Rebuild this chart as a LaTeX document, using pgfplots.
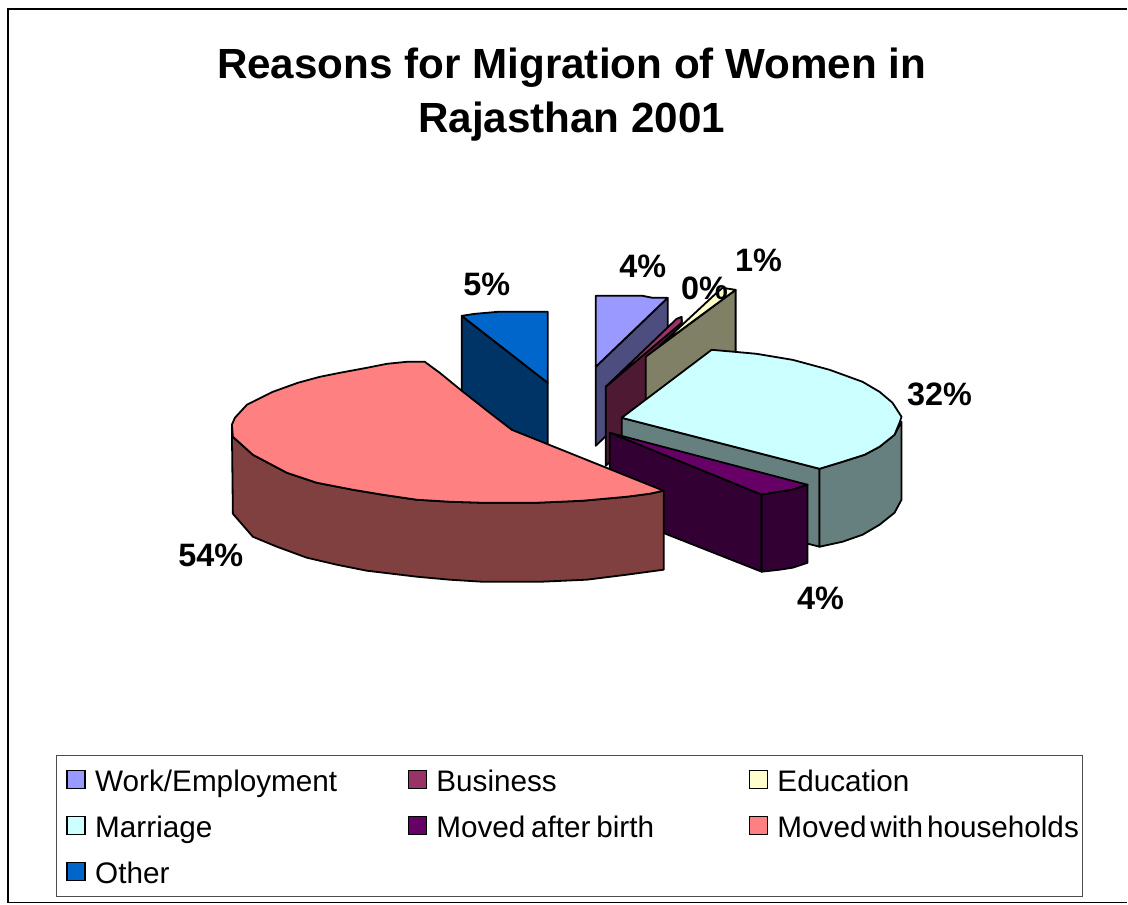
\documentclass[border=0pt]{standalone}
\usepackage{pgfplots}
\pgfplotsset{compat=1.18}
\usepackage{fontspec}
\setmainfont{Liberation Sans}
\newfontfamily\legfont[WordSpace=0.7]{Liberation Sans}
\hyphenation{households}
\definecolor{workT}{HTML}{9999FF}\definecolor{workS}{HTML}{4D4D80}
\definecolor{busT}{HTML}{993366}\definecolor{busS}{HTML}{4D1933}
\definecolor{eduT}{HTML}{FFFFCC}\definecolor{eduS}{HTML}{808066}
\definecolor{marT}{HTML}{CCFFFF}\definecolor{marS}{HTML}{668080}
\definecolor{birT}{HTML}{660066}\definecolor{birS}{HTML}{330033}
\definecolor{houT}{HTML}{FF8080}\definecolor{houS}{HTML}{804040}
\definecolor{othT}{HTML}{0066CC}\definecolor{othS}{HTML}{003366}
\pgfplotsset{
  slice/.style={draw=black,line width=1.8pt,line join=round,fill=#1,mark=none,forget plot},
  /pgfplots/swatch/.style={legend image code/.code={
    \draw[draw=black,line width=1.6pt,fill=#1] (0pt,-9pt) rectangle (18pt,9pt);
    \path[draw=none] (0pt,0pt) -- (25pt,0pt);}}
}
\begin{document}
\begin{tikzpicture}
\begin{axis}[
  scale only axis,width=1128pt,height=905pt,
  xmin=0,xmax=1128,ymin=0,ymax=905,y dir=reverse,
  hide axis,clip=false,
  legend columns=3,
  legend style={at={(axis cs:56,755)},anchor=north west,draw=black!70,line width=1pt,
    font=\legfont\fontsize{29.7}{32}\selectfont,inner xsep=10pt,inner ysep=8.5pt,
    row sep=14pt,column sep=0pt,
    /tikz/every even column/.append style={column sep=17.5pt},
    nodes={text width=292pt,align=flush left,inner xsep=3pt,inner ysep=3pt,text height=24.5pt,text depth=1.5pt}},
  legend cell align=left,
]
% page extent of the drawing
\path (axis cs:0,0) (axis cs:1128,905);

% chart frame, open at the right
\addplot[draw=black,line width=1.2pt,forget plot] coordinates {(1128,9)(8,9)(8,903)(1128,903)};

% Other
\addplot[slice=othS] coordinates {(462,316)(548,383)(548,450)(512,432)(462,392)} -- cycle;
\addplot[slice=othT] coordinates {(462,316)(475,314)(498,312)(548,312)(548,383)} -- cycle;

% Work/Employment
\addplot[slice=workS] coordinates {(668,298)(596,367)(596,446)(668,378)} -- cycle;
\addplot[slice=workT] coordinates {(596,296)(643,296)(653,298)(668,298)(596,367)} -- cycle;

% Business
\addplot[slice=busS] coordinates {(682,320)(606,387)(606,466)(682,400)} -- cycle;
\addplot[slice=busT] coordinates {(682,317)(677,319)(606,387)(682,323)} -- cycle;

% Education
\addplot[slice=eduS] coordinates {(736,290)(646,357)(646,402)(736,360)} -- cycle;
\addplot[slice=eduT] coordinates {(736,290)(723,288)(717,293)(660,346)} -- cycle;

% Marriage
\addplot[slice=marS] coordinates {(622,418)(820,469)(820,547)(622,497)} -- cycle;
\addplot[slice=marS] coordinates {(820,469)(843,462)(865,455)(880,447)(895,435)(902,422)
  (902,500)(895,513)(880,525)(863,535)(843,542)(820,547)} -- cycle;
\addplot[slice=marT] coordinates {(622,418)(712,350)(735,352)(757,354)(793,360)(830,370)
  (863,382)(880,392)(893,403)(902,417)(900,423)(895,435)(880,447)(865,455)(843,462)(820,469)} -- cycle;

% Moved after birth
\addplot[slice=birT] coordinates {(610,433)(808,485)(793,490)(780,492)(762,495)} -- cycle;
\addplot[slice=birS] coordinates {(610,433)(762,495)(762,572)(610,512)} -- cycle;
\addplot[slice=birS] coordinates {(762,495)(780,492)(793,490)(808,485)(808,563)(793,568)(780,570)(762,572)} -- cycle;

% Moved with households
\addplot[slice=houS] coordinates {(232,428)(233,437)(253,455)(287,473)(317,483)(353,490)(383,495)
  (417,500)(450,502)(482,503)(537,503)(583,501)(627,497)(650,494)(664,491)
  (664,570)(627,575)(587,580)(542,582)(482,582)(450,580)(417,577)(367,571)(337,565)(307,558)
  (277,547)(253,537)(233,514)} -- cycle;
\addplot[slice=houT] coordinates {(425,362)(407,362)(387,364)(367,368)(340,373)(320,377)(298,383)
  (273,392)(247,405)(235,418)(232,425)(233,437)(253,455)(287,473)(317,483)(353,490)(383,495)
  (417,500)(450,502)(482,503)(537,503)(583,501)(627,497)(650,494)(664,491)
  (512,430)(490,413)(462,391)(440,373)} -- cycle;

% legend entries
\addlegendimage{swatch=workT}\addlegendentry{Work/Employment}
\addlegendimage{swatch=busT}\addlegendentry{Business}
\addlegendimage{swatch=eduT}\addlegendentry{Education}
\addlegendimage{swatch=marT}\addlegendentry{Marriage}
\addlegendimage{swatch=birT}\addlegendentry{Moved after birth}
\addlegendimage{swatch=houT}\addlegendentry{Moved~with~households}
\addlegendimage{swatch=othT}\addlegendentry{Other}

% percentages
\begin{scope}[every node/.style={font=\bfseries\fontsize{32.4}{36}\selectfont,inner sep=0pt}]
\node at (axis cs:487,285) {5\%};
\node at (axis cs:643,266) {4\%};
\node at (axis cs:705,288) {0\%};
\node at (axis cs:759,260) {1\%};
\node at (axis cs:940,395) {32\%};
\node at (axis cs:211,556) {54\%};
\node at (axis cs:821,599) {4\%};
\end{scope}

% title
\node[font=\bfseries\fontsize{42.2}{54}\selectfont,align=center,inner sep=0pt] at (axis cs:572,95)
  {Reasons for Migration of Women in\\Rajasthan 2001};
\end{axis}
\end{tikzpicture}
\end{document}
